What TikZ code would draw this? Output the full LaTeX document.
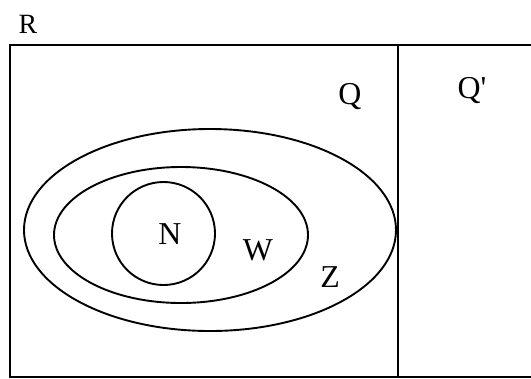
\documentclass[tikz,border=0pt]{standalone}
\usepackage{fontspec}
\setmainfont{Liberation Serif}[Ligatures=TeXOff]
\begin{document}
\begin{tikzpicture}[x=1bp,y=-1bp,
  frame/.style={line width=1.9bp, line cap=rect},
  setline/.style={line width=1.9bp},
  lbl/.style={inner sep=0pt, font=\fontsize{32}{32}\selectfont},
  small/.style={inner sep=0pt, font=\fontsize{28}{28}\selectfont}]
\useasboundingbox (0,0) rectangle (531,378);
\fill[white] (0,0) rectangle (531,378);
% frame
\coordinate (tr) at (531,45);
\coordinate (tl) at (10,45);
\coordinate (bl) at (10,377);
\coordinate (br) at (531,377);
\coordinate (vt) at (398,45);
\coordinate (vb) at (398,377);
\draw[frame] (tr) -- (tl) -- (bl) -- (br);
\draw[frame] (vt) -- (vb);
% sets
\coordinate (cz) at (210,230);
\coordinate (cw) at (181,235);
\coordinate (cn) at (163.5,233.5);
\draw[setline] (cz) ellipse [x radius=186, y radius=101];
\draw[setline] (cw) ellipse [x radius=127, y radius=68];
\draw[setline] (cn) circle [radius=51.5];
% labels
\node[small] (R) at (28,24) {R};
\node[lbl] (Q) at (350,97) {Q};
\node[lbl] (Qp) at (472,91) {Q'};
\node[lbl] (N) at (170,234) {N};
\node[lbl] (W) at (258,250) {W};
\node[lbl] (Z) at (330,277) {Z};
\end{tikzpicture}
\end{document}
